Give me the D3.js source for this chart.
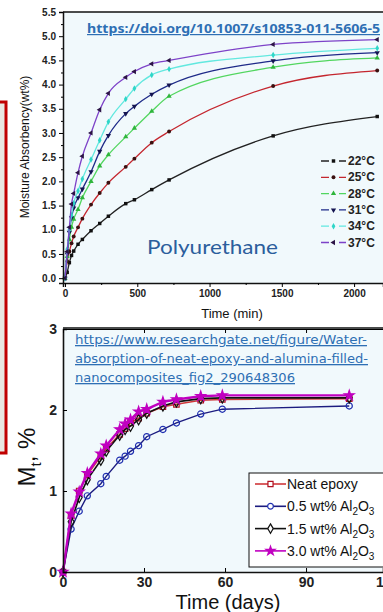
<!DOCTYPE html>
<html lang="en">
<head>
<meta charset="UTF-8">
<title>Moisture absorption charts</title>
<script src="https://d3js.org/d3.v7.min.js"></script>
<style>
  body { margin: 0; background: #fff; }
  svg { display: block; font-family: Arial, "Liberation Sans", sans-serif; }
  .tick text { fill: #222; }
  .link { fill: #2e6fb4; text-decoration: underline; }
</style>
</head>
<body>
<svg id="chart" width="383" height="612"></svg>
<script>
// ---- top chart: polyurethane ----
const minutes = [0, 15, 30, 45, 60, 90, 120, 180, 240, 300, 420, 480, 600, 720, 1440, 2160];
const pu22 = [0, 0.12, 0.32, 0.47, 0.56, 0.70, 0.80, 0.98, 1.13, 1.28, 1.54, 1.62, 1.83, 2.03, 2.94, 3.34];
const pu25 = [0, 0.35, 0.55, 0.72, 0.86, 1.05, 1.23, 1.52, 1.76, 1.97, 2.30, 2.47, 2.80, 3.03, 3.97, 4.29];
const pu28 = [0, 0.45, 0.80, 1.05, 1.22, 1.42, 1.66, 2.00, 2.32, 2.55, 2.92, 3.10, 3.45, 3.76, 4.36, 4.55];
const pu31 = [0, 0.50, 0.95, 1.25, 1.45, 1.66, 1.84, 2.20, 2.62, 2.95, 3.40, 3.55, 3.80, 3.99, 4.49, 4.66];
const pu34 = [0, 0.60, 1.00, 1.30, 1.55, 1.80, 2.05, 2.45, 2.85, 3.23, 3.70, 3.92, 4.20, 4.32, 4.61, 4.75];
const pu37 = [0, 0.55, 1.05, 1.53, 1.75, 2.18, 2.52, 3.00, 3.48, 3.82, 4.15, 4.27, 4.43, 4.50, 4.83, 4.93];
const puLabels = ["22°C", "25°C", "28°C", "31°C", "34°C", "37°C"];

// ---- bottom chart: epoxy / alumina ----
const days = [0, 3, 6, 9, 14, 16, 21, 23, 25, 28, 31, 37, 42, 51, 59, 106];
const neatEpoxy = [0, 0.70, 1.00, 1.20, 1.43, 1.52, 1.70, 1.77, 1.84, 1.90, 1.96, 2.04, 2.07, 2.12, 2.13, 2.14];
const al05 = [0, 0.53, 0.75, 0.94, 1.09, 1.18, 1.38, 1.43, 1.49, 1.56, 1.67, 1.76, 1.84, 1.95, 2.01, 2.05];
const al15 = [0, 0.62, 0.92, 1.14, 1.38, 1.49, 1.69, 1.76, 1.80, 1.88, 1.96, 2.05, 2.10, 2.14, 2.15, 2.15];
const al30 = [0, 0.72, 0.99, 1.22, 1.46, 1.56, 1.76, 1.83, 1.88, 1.98, 2.01, 2.10, 2.13, 2.17, 2.18, 2.18];
const epLabels = ["Neat epoxy", "0.5 wt% Al", "1.5 wt% Al", "3.0 wt% Al"];

const svg = d3.select("#chart");

// red frame fragment on the left edge
svg.append("rect").attr("x", -20).attr("y", 102).attr("width", 26).attr("height", 351)
  .attr("fill", "#e9e6e0").attr("stroke", "#c00000").attr("stroke-width", 3);

// ================= TOP =================
const x1 = d3.scaleLinear().domain([-14, 2200]).range([63, 383]);
const y1 = d3.scaleLinear().domain([-0.1, 5.5]).range([283, 12]);

svg.append("rect").attr("x", 63).attr("y", 12).attr("width", 320).attr("height", 271).attr("fill", "#f1f9fc");

const puSeries = [
  { v: pu22, color: "#222", mk: "#111", sym: d3.symbolSquare },
  { v: pu25, color: "#c4262e", mk: "#3a1010", sym: d3.symbolCircle },
  { v: pu28, color: "#52d65f", mk: "#2fb53c", sym: d3.symbolTriangle },
  { v: pu31, color: "#1e2a88", mk: "#141450", sym: d3.symbolTriangle, rot: 180 },
  { v: pu34, color: "#62e8df", mk: "#2fd6c8", sym: d3.symbolDiamond },
  { v: pu37, color: "#7d42c8", mk: "#2c1446", sym: d3.symbolTriangle, rot: -90 }
];

const line1 = d3.line().x(d => x1(d[0])).y(d => y1(d[1])).curve(d3.curveMonotoneX);
puSeries.forEach(s => {
  const pts = minutes.map((t, i) => [t, s.v[i]]);
  svg.append("path").attr("d", line1(pts)).attr("fill", "none").attr("stroke", s.color).attr("stroke-width", 1.3);
  svg.append("g").selectAll("path").data(pts).join("path")
    .attr("d", d3.symbol(s.sym, 12))
    .attr("transform", d => `translate(${x1(d[0])},${y1(d[1])}) rotate(${s.rot || 0})`)
    .attr("fill", s.mk);
});

// axes
const yAx1 = svg.append("g").attr("transform", "translate(63,0)")
  .call(d3.axisLeft(y1).tickValues(d3.range(0, 5.51, 0.5)).tickFormat(d3.format(".1f")).tickSize(4));
const xAx1 = svg.append("g").attr("transform", "translate(0,283)")
  .call(d3.axisBottom(x1).tickValues([0, 500, 1000, 1500, 2000]).tickFormat(d3.format("d")).tickSize(4));
svg.append("g").attr("transform", "translate(63,0)")
  .call(d3.axisLeft(y1).tickValues(d3.range(0.25, 5.5, 0.5)).tickFormat("").tickSize(2))
  .select(".domain").remove();
svg.append("g").attr("transform", "translate(0,283)")
  .call(d3.axisBottom(x1).tickValues([250, 750, 1250, 1750]).tickFormat("").tickSize(2))
  .select(".domain").remove();
[yAx1, xAx1].forEach(a => {
  a.select(".domain").attr("stroke", "#111").attr("stroke-width", 1.5);
  a.selectAll(".tick text").attr("font-size", 10).attr("font-weight", "bold");
});
yAx1.selectAll(".tick text").attr("x", -7);
svg.append("line").attr("x1", 63).attr("x2", 383).attr("y1", 12).attr("y2", 12).attr("stroke", "#111").attr("stroke-width", 1.5);

svg.append("text").attr("x", 232).attr("y", 318).attr("text-anchor", "middle")
  .attr("font-size", 13).attr("fill", "#111").text("Time (min)");
svg.append("text").attr("transform", "translate(29,147) rotate(-90)").attr("text-anchor", "middle")
  .attr("font-size", 12).attr("fill", "#111").text("Moisture Absorbency(wt%)");

svg.append("text").attr("class", "link").attr("x", 87).attr("y", 33)
  .attr("font-size", 12).attr("font-weight", "bold").attr("font-family", "'Noto Sans', sans-serif")
  .attr("textLength", 293).attr("lengthAdjust", "spacingAndGlyphs")
  .text("https://doi.org/10.1007/s10853-011-5606-5");

svg.append("text").attr("x", 147).attr("y", 254).attr("font-size", 20).attr("fill", "#2c5e9c")
  .attr("font-family", "Lato, sans-serif").attr("textLength", 131).attr("lengthAdjust", "spacingAndGlyphs")
  .text("Polyurethane");

// legend
const lg1 = svg.append("g").selectAll("g").data(puSeries).join("g")
  .attr("transform", (d, i) => `translate(321,${161 + i * 16.3})`);
lg1.append("line").attr("x1", 0).attr("x2", 25).attr("stroke", d => d.color).attr("stroke-width", 1.3)
  .attr("stroke-dasharray", "8,4,2,4,8");
lg1.append("path").attr("d", d => d3.symbol(d.sym, 12)()).attr("fill", d => d.mk)
  .attr("transform", d => `translate(12.5,0) rotate(${d.rot || 0})`);
lg1.append("text").attr("x", 27).attr("y", 4).attr("font-size", 12).attr("font-weight", "bold")
  .attr("fill", "#222").text((d, i) => puLabels[i]);

// ================= BOTTOM =================
const x2 = d3.scaleLinear().domain([0, 118.5]).range([63, 383]);
const y2 = d3.scaleLinear().domain([0, 3]).range([572, 329]);

svg.append("rect").attr("x", 63).attr("y", 327).attr("width", 320).attr("height", 245).attr("fill", "#f1f9fc");

["https://www.researchgate.net/figure/Water-",
 "absorption-of-neat-epoxy-and-alumina-filled-",
 "nanocomposites_fig2_290648306"].forEach((t, i) => {
  svg.append("text").attr("class", "link").attr("x", 75).attr("y", 344 + i * 19)
    .attr("font-size", 13).attr("font-family", "'DejaVu Sans', sans-serif")
    .attr("textLength", [292, 293, 220][i]).attr("lengthAdjust", "spacingAndGlyphs").text(t);
});

const epSeries = [
  { v: neatEpoxy, color: "#d0383a", mk: "#b01020", sym: d3.symbolSquare, w: 1.6 },
  { v: al05, color: "#1c1c80", mk: "#2030b0", sym: d3.symbolCircle, w: 1.4 },
  { v: al15, color: "#111", mk: "#111", sym: d3.symbolDiamond, w: 1.6 },
  { v: al30, color: "#c000c0", mk: "#c000c0", sym: d3.symbolStar, w: 2.4, fill: true }
];

const line2 = d3.line().x(d => x2(d[0])).y(d => y2(d[1]));
epSeries.forEach(s => {
  const pts = days.map((t, i) => [t, s.v[i]]);
  svg.append("path").attr("d", line2(pts)).attr("fill", "none").attr("stroke", s.color).attr("stroke-width", s.w);
  svg.append("g").selectAll("path").data(pts).join("path")
    .attr("d", d3.symbol(s.sym, 30))
    .attr("transform", d => `translate(${x2(d[0])},${y2(d[1])})`)
    .attr("fill", s.fill ? s.mk : "none").attr("stroke", s.mk).attr("stroke-width", 1.2);
});

const xAx2 = svg.append("g").attr("transform", "translate(0,572)")
  .call(d3.axisBottom(x2).tickValues([0, 30, 60, 90, 120]).tickFormat(d3.format("d")).tickSize(-4).tickPadding(5));
const yAx2 = svg.append("g").attr("transform", "translate(63,0)")
  .call(d3.axisLeft(y2).tickValues([0, 1, 2, 3]).tickFormat(d3.format("d")).tickSize(-4).tickPadding(6));
svg.append("g").attr("transform", "translate(0,329)")
  .call(d3.axisTop(x2).tickValues([30, 60, 90]).tickFormat("").tickSize(-4));
[xAx2, yAx2].forEach(a => {
  a.select(".domain").attr("stroke", "#111").attr("stroke-width", 1.6);
  a.selectAll(".tick text").attr("font-size", 14).attr("font-weight", "bold").attr("fill", "#111");
});
svg.append("line").attr("x1", 63).attr("x2", 383).attr("y1", 328).attr("y2", 328).attr("stroke", "#111").attr("stroke-width", 1.6);

svg.append("text").attr("x", 228).attr("y", 609).attr("text-anchor", "middle")
  .attr("font-size", 20).attr("fill", "#111").text("Time (days)");
const ml = svg.append("text").attr("transform", "translate(35,457) rotate(-90)").attr("text-anchor", "middle")
  .attr("font-size", 24).attr("fill", "#111");
ml.append("tspan").text("M");
ml.append("tspan").attr("font-size", 15).attr("dy", 6).text("t");
ml.append("tspan").attr("dy", -6).text(", %");

// legend
svg.append("rect").attr("x", 249).attr("y", 473).attr("width", 140).attr("height", 94)
  .attr("fill", "#fff").attr("stroke", "#111").attr("stroke-width", 1);
const lg2 = svg.append("g").selectAll("g").data(epSeries).join("g")
  .attr("transform", (d, i) => `translate(255,${484 + i * 22.3})`);
lg2.append("line").attr("x1", 0).attr("x2", 31).attr("stroke", d => d.color).attr("stroke-width", 1.6);
lg2.append("path").attr("d", d => d3.symbol(d.sym, 26)()).attr("transform", "translate(15.5,0)")
  .attr("fill", d => d.fill ? d.mk : "#fff").attr("stroke", d => d.mk).attr("stroke-width", 1.2);
const lt = lg2.append("text").attr("x", 32).attr("y", 5).attr("font-size", 14).attr("fill", "#111");
lt.append("tspan").text((d, i) => epLabels[i]);
lt.filter((d, i) => i > 0).each(function () {
  const t = d3.select(this);
  t.append("tspan").attr("font-size", 10).attr("dy", 4).text("2");
  t.append("tspan").attr("dy", -4).text("O");
  t.append("tspan").attr("font-size", 10).attr("dy", 4).text("3");
});
</script>
</body>
</html>
